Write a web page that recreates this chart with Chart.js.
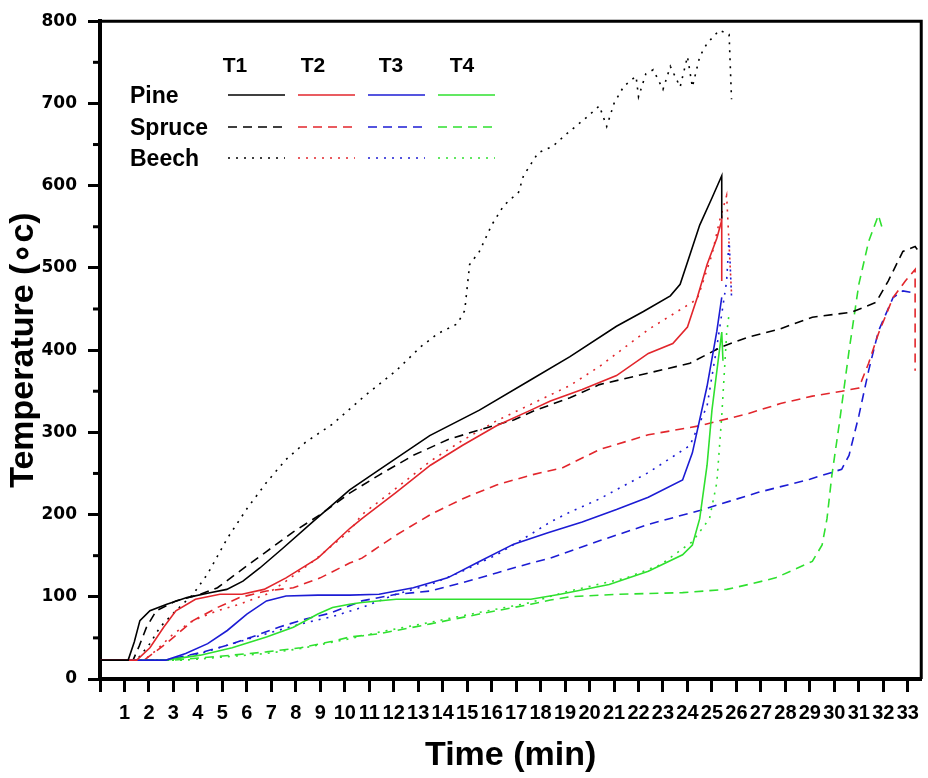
<!DOCTYPE html>
<html>
<head>
<meta charset="utf-8">
<script src="https://cdn.jsdelivr.net/npm/chart.js@4/dist/chart.umd.min.js"></script>
<style>
  html, body { margin: 0; padding: 0; background: #fff; }
</style>
</head>
<body>
<canvas id="chart" width="928" height="778"></canvas>
<script>
// categories
const woods = ['Pine', 'Spruce', 'Beech'];
const sensors = ['T1', 'T2', 'T3', 'T4'];

// tick labels
const timeTicks = [0, 1, 2, 3, 4, 5, 6, 7, 8, 9, 10, 11, 12, 13, 14, 15, 16, 17, 18, 19, 20, 21, 22, 23, 24, 25, 26, 27, 28, 29, 30, 31, 32, 33];
const tempTicks = [0, 100, 200, 300, 400, 500, 600, 700, 800];
const tempMinorTicks = [50, 150, 250, 350, 450, 550, 650, 750];

// series values: [time (min), temperature]
const pineT1 = [[0, 23], [1.15, 23], [1.4, 45], [1.63, 71], [2.04, 83], [2.73, 91], [3.55, 99], [4.49, 105], [5.18, 109], [5.84, 119], [6.53, 135], [7.47, 159], [8.69, 191], [10.2, 230], [11.43, 255], [13.47, 296], [15.5, 327], [17.55, 363], [19.2, 392], [21.1, 429], [22.2, 447], [23.3, 466], [23.7, 480], [24.1, 516], [24.5, 552], [25.0, 585], [25.4, 612], [25.4, 560]];
const pineT2 = [[0, 23], [1.5, 23], [2.04, 38], [2.6, 63], [3.1, 83], [3.9, 97], [4.9, 103], [5.8, 103], [6.7, 109], [7.6, 123], [8.9, 147], [10.2, 183], [10.7, 195], [12.1, 227], [13.5, 260], [14.8, 284], [16.2, 308], [17.6, 327], [18.4, 338], [19.7, 352], [21.1, 369], [22.4, 396], [23.4, 408], [24.0, 428], [24.4, 464], [24.8, 504], [25.2, 536], [25.4, 558], [25.4, 484]];
const pineT3 = [[0, 23], [2.7, 23], [3.5, 31], [4.4, 43], [5.2, 59], [6.0, 79], [6.8, 95], [7.6, 101], [8.9, 102], [10.2, 102], [11.4, 103], [12.8, 111], [14.2, 123], [15.5, 143], [16.9, 164], [18.3, 178], [19.7, 191], [21.1, 206], [22.4, 221], [23.8, 242], [24.2, 275], [24.8, 356], [25.2, 423], [25.4, 464]];
const pineT4 = [[0, 23], [2.7, 23], [4.1, 29], [5.4, 38], [6.8, 51], [7.9, 63], [8.9, 79], [9.5, 87], [10.2, 91], [10.7, 93], [12.1, 97], [14.8, 97], [17.6, 97], [18.8, 103], [20.8, 115], [22.4, 131], [23.8, 151], [24.2, 163], [24.5, 195], [24.8, 260], [25.0, 327], [25.4, 422], [25.45, 387]];

const spruceT1 = [[0, 23], [1.35, 23], [1.6, 40], [1.9, 63], [2.3, 83], [3.1, 95], [4.1, 103], [4.8, 111], [5.7, 131], [6.8, 155], [7.9, 179], [9.0, 200], [10.2, 226], [11.4, 248], [12.8, 272], [14.2, 291], [15.5, 303], [16.9, 315], [17.8, 327], [19.2, 342], [20.4, 358], [22.4, 372], [24.1, 384], [25.4, 404], [26.5, 416], [27.8, 426], [29.1, 440], [30.7, 446], [31.7, 458], [32.2, 484], [32.8, 520], [33.3, 526], [33.5, 518]];
const spruceT2 = [[0, 23], [1.8, 23], [2.7, 43], [3.8, 71], [4.8, 87], [5.7, 99], [6.8, 107], [7.9, 111], [9.0, 123], [10.2, 141], [10.7, 147], [12.1, 175], [13.5, 200], [14.8, 219], [16.2, 236], [17.6, 248], [18.9, 257], [20.4, 279], [22.4, 297], [24.5, 308], [26.5, 323], [27.8, 335], [29.1, 344], [30.3, 350], [31.0, 354], [31.4, 384], [31.8, 420], [32.4, 464], [32.9, 484], [33.3, 498], [33.3, 375]];
const spruceT3 = [[0, 23], [2.7, 23], [4.1, 32], [5.2, 41], [6.2, 51], [7.3, 63], [8.4, 73], [9.4, 80], [10.7, 95], [12.1, 103], [13.5, 107], [14.8, 117], [16.2, 129], [17.6, 141], [18.4, 147], [20.4, 168], [22.4, 188], [24.5, 205], [26.9, 227], [29.0, 243], [30.3, 255], [30.6, 272], [31.0, 320], [31.4, 375], [31.8, 423], [32.4, 464], [32.8, 472], [33.2, 470]];
const spruceT4 = [[0, 23], [3.0, 23], [5.4, 29], [6.8, 33], [8.2, 38], [9.5, 46], [10.2, 51], [11.4, 55], [13.5, 67], [15.5, 79], [17.6, 91], [18.4, 96], [19.2, 100], [21.1, 103], [23.8, 105], [25.6, 109], [26.5, 115], [27.6, 123], [29.1, 143], [29.5, 163], [29.7, 195], [29.9, 248], [30.2, 310], [30.6, 399], [31.0, 480], [31.4, 532], [31.8, 564], [32.0, 544]];

const beechT1 = [[0, 23], [1.5, 23], [2.04, 43], [2.45, 63], [3.1, 83], [3.8, 103], [4.4, 128], [5.2, 171], [6.0, 207], [6.8, 239], [7.6, 267], [8.4, 288], [9.5, 310], [10.8, 344], [12.1, 375], [13.1, 404], [13.8, 420], [14.6, 432], [14.9, 448], [15.1, 504], [15.5, 520], [16.0, 552], [16.5, 576], [17.1, 592], [17.3, 612], [17.9, 640], [18.5, 648], [19.1, 664], [19.8, 681], [20.4, 697], [20.7, 672], [21.0, 700], [21.4, 721], [21.9, 733], [22.0, 708], [22.3, 736], [22.6, 741], [23.0, 717], [23.3, 745], [23.7, 720], [24.0, 757], [24.2, 720], [24.5, 757], [24.8, 773], [25.3, 789], [25.7, 784], [25.8, 705]];
const beechT2 = [[0, 23], [1.8, 23], [2.3, 35], [3.0, 55], [3.8, 71], [4.8, 83], [5.7, 91], [6.8, 103], [7.6, 119], [8.7, 143], [10.2, 180], [10.7, 200], [12.1, 232], [13.5, 265], [14.8, 290], [16.2, 314], [17.6, 334], [19.2, 357], [20.4, 380], [22.4, 425], [24.4, 462], [25.0, 516], [25.3, 556], [25.6, 588], [25.8, 468]];
const beechT3 = [[0, 23], [2.7, 23], [4.1, 31], [5.4, 43], [6.8, 55], [8.2, 67], [9.5, 76], [10.7, 87], [12.1, 103], [13.5, 115], [14.8, 131], [16.2, 151], [17.6, 176], [18.4, 191], [19.2, 203], [20.4, 219], [22.4, 251], [24.1, 284], [24.8, 332], [25.2, 404], [25.6, 484], [25.7, 536], [25.8, 464]];
const beechT4 = [[0, 23], [3.5, 23], [6.8, 31], [8.2, 37], [10.2, 49], [11.4, 57], [13.5, 69], [15.5, 81], [17.6, 93], [18.9, 105], [21.5, 123], [22.9, 139], [24.2, 167], [24.9, 195], [25.2, 239], [25.4, 320], [25.6, 420], [25.7, 444]];

const series = {
    Pine: [pineT1, pineT2, pineT3, pineT4],
    Spruce: [spruceT1, spruceT2, spruceT3, spruceT4],
    Beech: [beechT1, beechT2, beechT3, beechT4]
};

// styles
const sensorColors = ['#000000', '#e2262c', '#1c1cd4', '#2fe02f'];
const woodDash = [[], [9, 6], [2, 6]];

const datasets = [];
woods.forEach((wood, wi) => {
    sensors.forEach((sensor, si) => {
        datasets.push({
            label: wood + ' ' + sensor,
            data: series[wood][si].map(p => ({ x: p[0], y: p[1] })),
            borderColor: sensorColors[si],
            borderDash: woodDash[wi],
            borderWidth: 1.6,
            pointRadius: 0,
            tension: 0,
            fill: false
        });
    });
});

const boldSans = '"Liberation Sans", Arial, sans-serif';

// frame, minor ticks, axis titles and the T1..T4 legend table
const extras = {
    id: 'extras',
    afterDraw(chart) {
        const ctx = chart.ctx;
        const area = chart.chartArea;
        const y = chart.scales.y;
        ctx.save();
        ctx.strokeStyle = '#000';
        ctx.lineWidth = 3;
        ctx.beginPath();
        ctx.moveTo(area.left, area.top);
        ctx.lineTo(area.right, area.top);
        ctx.lineTo(area.right, area.bottom);
        ctx.stroke();

        tempMinorTicks.forEach(v => {
            const py = y.getPixelForValue(v);
            ctx.beginPath();
            ctx.moveTo(area.left - 7, py);
            ctx.lineTo(area.left, py);
            ctx.stroke();
        });

        // axis titles
        ctx.fillStyle = '#000';
        ctx.font = 'bold 34px ' + boldSans;
        ctx.textAlign = 'center';
        ctx.textBaseline = 'alphabetic';
        ctx.fillText('Time (min)', (area.left + area.right) / 2, 765);
        ctx.save();
        ctx.translate(33, (area.top + area.bottom) / 2);
        ctx.rotate(-Math.PI / 2);
        ctx.fillText('Temperature (\u2218c)', 0, 0);
        ctx.restore();

        // legend table
        const colX = [228, 298, 368, 438];
        const headX = [235, 313, 391, 462];
        const rowY = [95, 127, 158];
        ctx.font = 'bold 21px ' + boldSans;
        sensors.forEach((s, si) => ctx.fillText(s, headX[si], 72));
        ctx.textAlign = 'left';
        ctx.font = 'bold 23px ' + boldSans;
        woods.forEach((w, wi) => {
            ctx.fillText(w, 130, rowY[wi] + 8);
            sensors.forEach((s, si) => {
                ctx.strokeStyle = sensorColors[si];
                ctx.lineWidth = 1.6;
                ctx.setLineDash(woodDash[wi]);
                ctx.beginPath();
                ctx.moveTo(colX[si], rowY[wi]);
                ctx.lineTo(colX[si] + 57, rowY[wi]);
                ctx.stroke();
            });
        });
        ctx.setLineDash([]);
        ctx.restore();
    }
};

const ctx = document.getElementById('chart').getContext('2d');
const chart = new Chart(ctx, {
    type: 'line',
    data: { datasets: datasets },
    options: {
        responsive: false,
        animation: false,
        layout: { padding: { top: 14, right: 6, left: 0, bottom: 0 } },
        plugins: {
            legend: { display: false },
            tooltip: { enabled: false }
        },
        scales: {
            x: {
                type: 'linear',
                min: 0,
                max: 33.55,
                afterFit(scale) { scale.height = 99; },
                afterBuildTicks(scale) { scale.ticks = timeTicks.map(v => ({ value: v })); },
                ticks: {
                    autoSkip: false,
                    maxRotation: 0,
                    minRotation: 0,
                    padding: 9,
                    color: '#000',
                    font: { family: '"Liberation Sans Narrow", "Arial Narrow", "Liberation Sans", sans-serif', size: 20, weight: 'bold' },
                    callback: v => (v === 0 ? '' : String(v))
                },
                grid: { drawOnChartArea: false, drawTicks: true, tickLength: 13, tickWidth: 3, tickColor: '#000' },
                border: { color: '#000', width: 4 }
            },
            y: {
                type: 'linear',
                min: 0,
                max: 800,
                afterFit(scale) { scale.width = 100; },
                afterBuildTicks(scale) { scale.ticks = tempTicks.map(v => ({ value: v })); },
                ticks: {
                    padding: 11,
                    color: '#000',
                    font: { family: '"DejaVu Sans", sans-serif', size: 17, weight: 'bold' }
                },
                grid: { drawOnChartArea: false, drawTicks: true, tickLength: 12, tickWidth: 3, tickColor: '#000' },
                border: { color: '#000', width: 4 }
            }
        }
    },
    plugins: [extras]
});
</script>
</body>
</html>
